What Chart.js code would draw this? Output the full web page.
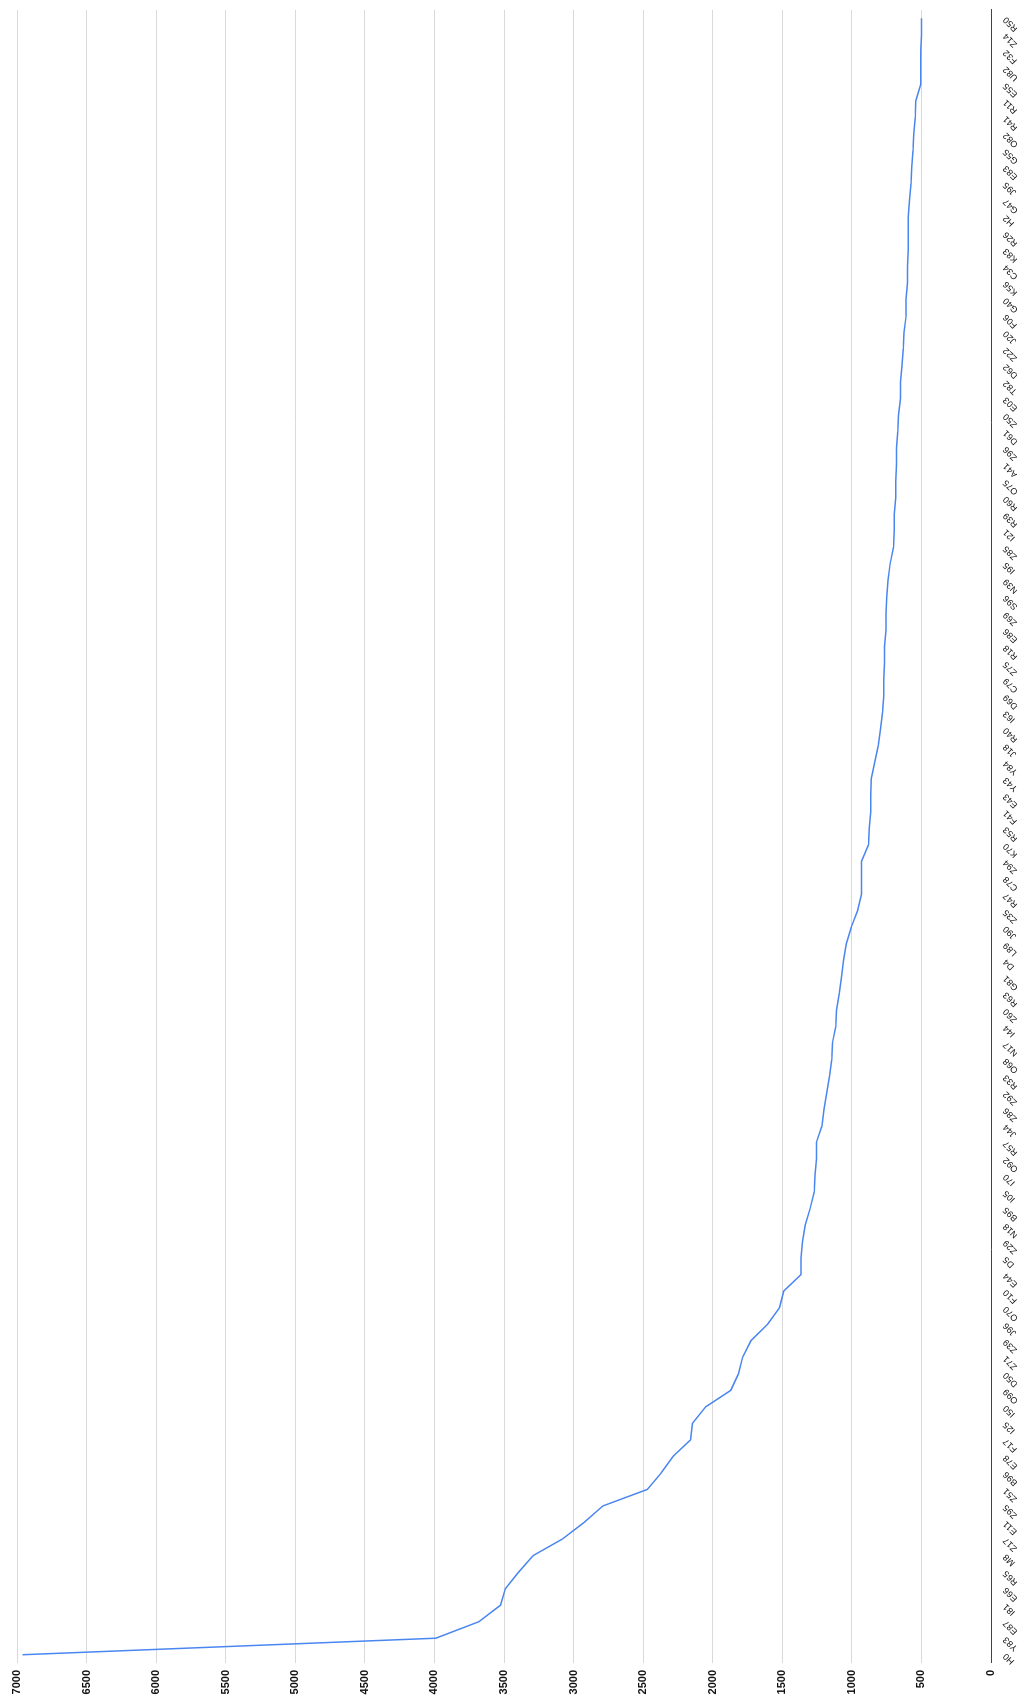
<!DOCTYPE html>
<html>
<head>
<meta charset="utf-8">
<script src="https://cdn.jsdelivr.net/npm/chart.js@4.4.0/dist/chart.umd.min.js"></script>
<style>
  html, body { margin: 0; padding: 0; background: #fff; overflow: hidden; }
  #wrap {
    position: absolute; left: 0; top: 0;
    width: 1702px; height: 1017px;
    transform-origin: 0 0;
    transform: translateY(1702px) rotate(-90deg);
  }
</style>
</head>
<body>
<div id="wrap"><canvas id="myChart" width="1702" height="1017"></canvas></div>
<script>
// categories, left to right in the unrotated chart
const codes = [
  'H0', 'Y83', 'E87', 'I81', 'E66', 'R65', 'M8', 'Z17', 'E11', 'Z95',
  'Z51', 'B96', 'E78', 'F17', 'I25', 'I50', 'O99', 'D50', 'Z71', 'Z39',
  'J96', 'O70', 'F10', 'E44', 'D5', 'Z29', 'N18', 'B95', 'I05', 'I70',
  'O92', 'R57', 'J44', 'Z86', 'Z92', 'R33', 'O68', 'N17', 'I44', 'Z60',
  'R63', 'G81', 'D4', 'L89', 'J90', 'Z35', 'R47', 'C78', 'Z94', 'K70',
  'R53', 'F41', 'E43', 'Y43', 'Y84', 'J18', 'R40', 'I63', 'D69', 'C79',
  'Z75', 'R18', 'E86', 'Z69', 'S96', 'N39', 'I95', 'Z85', 'I21', 'R39',
  'R60', 'O75', 'A41', 'Z96', 'D61', 'Z50', 'E03', 'T82', 'D62', 'Z22',
  'J20', 'F06', 'G40', 'K56', 'C34', 'K83', 'R26', 'H2', 'G47', 'J95',
  'E83', 'G55', 'O82', 'R41', 'R11', 'E55', 'U82', 'F32', 'Z14', 'R50'
];

const counts = [
  6960, 3990, 3680, 3525, 3490, 3395, 3290, 3080, 2925, 2790,
  2470, 2370, 2285, 2160, 2145, 2050, 1870, 1815, 1785, 1725,
  1605, 1520, 1490, 1365, 1365, 1355, 1335, 1300, 1270, 1265,
  1255, 1255, 1215, 1200, 1180, 1160, 1145, 1140, 1115, 1110,
  1090, 1075, 1060, 1040, 1005, 960, 930, 930, 930, 880,
  875, 865, 865, 860, 835, 810, 795, 780, 770, 770,
  765, 765, 755, 755, 750, 740, 725, 700, 695, 695,
  685, 685, 680, 680, 670, 665, 650, 650, 640, 630,
  625, 610, 610, 600, 600, 595, 595, 595, 585, 575,
  570, 560, 555, 545, 540, 505, 505, 505, 500, 500
];

const valueTicks = [0, 500, 1000, 1500, 2000, 2500, 3000, 3500, 4000, 4500, 5000, 5500, 6000, 6500, 7000];

const ctx = document.getElementById('myChart');

new Chart(ctx, {
  type: 'line',
  data: {
    labels: codes,
    datasets: [{
      data: counts,
      borderColor: '#4a86f0',
      borderWidth: 1.5,
      pointRadius: 0,
      tension: 0,
      fill: false
    }]
  },
  options: {
    responsive: false,
    animation: false,
    layout: { padding: { top: 17, right: 10, bottom: 0, left: 0 } },
    plugins: { legend: { display: false }, tooltip: { enabled: false } },
    scales: {
      x: {
        offset: true,
        grid: { display: false },
        border: { display: true, color: '#444', width: 1 },
        ticks: {
          autoSkip: false,
          minRotation: 45,
          maxRotation: 45,
          padding: 2,
          color: '#111',
          font: { family: 'Arial, "Liberation Sans"', size: 9 }
        },
        afterFit: s => { s.height = 26; }
      },
      y: {
        min: 0,
        max: 7000,
        afterBuildTicks: s => { s.ticks = valueTicks.map(v => ({ value: v })); },
        grid: { color: '#d9d9d9', drawTicks: false },
        border: { display: false },
        ticks: {
          padding: 7,
          color: '#111',
          font: { family: 'Arial, "Liberation Sans"', size: 11, weight: 'bold' },
          callback: v => String(v)
        },
        afterFit: s => { s.width = 39; }
      }
    }
  }
});
</script>
</body>
</html>
